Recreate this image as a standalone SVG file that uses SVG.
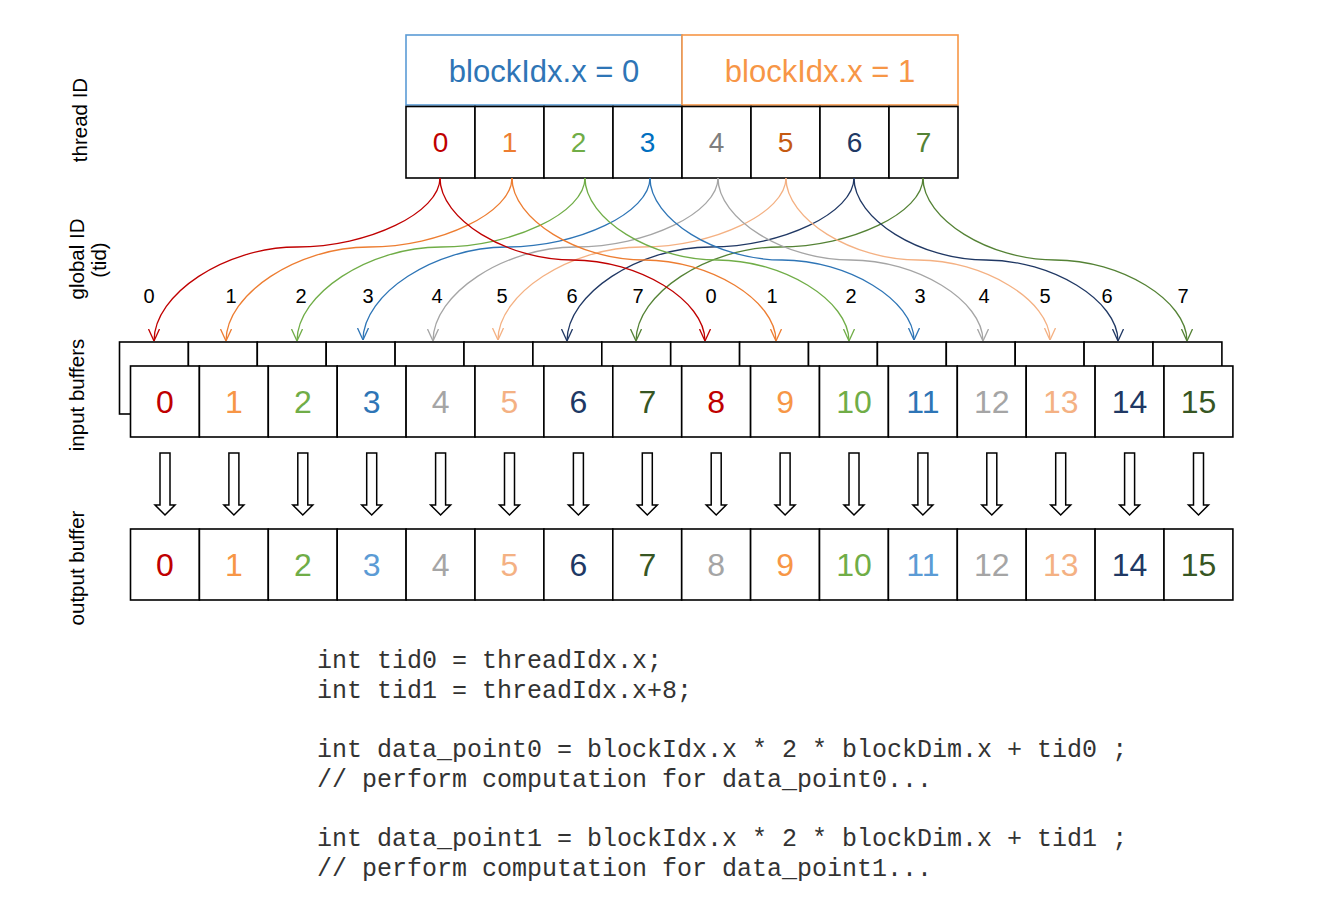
<svg xmlns="http://www.w3.org/2000/svg" width="1332" height="897" viewBox="0 0 1332 897">
<style>
.cell{fill:#fff;stroke:#000;stroke-width:1.6}
.num{font-family:"Liberation Sans",Arial,sans-serif;text-anchor:middle}
.top{font-size:28px}
.big{font-size:32px}
.lbl{font-family:"Liberation Sans",Arial,sans-serif;font-size:20px;text-anchor:middle;fill:#000}
.side{font-family:"Liberation Sans",Arial,sans-serif;font-size:20.5px;text-anchor:middle;fill:#000}
.code{font-family:"Liberation Mono","Courier New",monospace;font-size:25px;fill:#333;white-space:pre}
.cv{fill:none;stroke-width:1.3}
.harrow{fill:#fff;stroke:#000;stroke-width:1.5}
</style>
<defs>
<marker id="m0" viewBox="0 0 12 12" refX="12" refY="6" markerWidth="12" markerHeight="12" markerUnits="userSpaceOnUse" orient="auto"><path d="M0,0.5 L12,6 L0,11.5" fill="none" stroke="#c00000" stroke-width="1.3"/></marker>
<marker id="m1" viewBox="0 0 12 12" refX="12" refY="6" markerWidth="12" markerHeight="12" markerUnits="userSpaceOnUse" orient="auto"><path d="M0,0.5 L12,6 L0,11.5" fill="none" stroke="#ed7d31" stroke-width="1.3"/></marker>
<marker id="m2" viewBox="0 0 12 12" refX="12" refY="6" markerWidth="12" markerHeight="12" markerUnits="userSpaceOnUse" orient="auto"><path d="M0,0.5 L12,6 L0,11.5" fill="none" stroke="#70ad47" stroke-width="1.3"/></marker>
<marker id="m3" viewBox="0 0 12 12" refX="12" refY="6" markerWidth="12" markerHeight="12" markerUnits="userSpaceOnUse" orient="auto"><path d="M0,0.5 L12,6 L0,11.5" fill="none" stroke="#2e75b6" stroke-width="1.3"/></marker>
<marker id="m4" viewBox="0 0 12 12" refX="12" refY="6" markerWidth="12" markerHeight="12" markerUnits="userSpaceOnUse" orient="auto"><path d="M0,0.5 L12,6 L0,11.5" fill="none" stroke="#a5a5a5" stroke-width="1.3"/></marker>
<marker id="m5" viewBox="0 0 12 12" refX="12" refY="6" markerWidth="12" markerHeight="12" markerUnits="userSpaceOnUse" orient="auto"><path d="M0,0.5 L12,6 L0,11.5" fill="none" stroke="#f4b183" stroke-width="1.3"/></marker>
<marker id="m6" viewBox="0 0 12 12" refX="12" refY="6" markerWidth="12" markerHeight="12" markerUnits="userSpaceOnUse" orient="auto"><path d="M0,0.5 L12,6 L0,11.5" fill="none" stroke="#203864" stroke-width="1.3"/></marker>
<marker id="m7" viewBox="0 0 12 12" refX="12" refY="6" markerWidth="12" markerHeight="12" markerUnits="userSpaceOnUse" orient="auto"><path d="M0,0.5 L12,6 L0,11.5" fill="none" stroke="#548235" stroke-width="1.3"/></marker>
</defs>
<rect width="1332" height="897" fill="#fff"/>

<!-- side labels -->
<g id="side-labels">
<text class="side" transform="translate(80,120) rotate(-90)" dy="0.35em">thread ID</text>
<text class="side" transform="translate(77,259) rotate(-90)" dy="0.35em">global ID</text>
<text class="side" transform="translate(99,260) rotate(-90)" dy="0.35em">(tid)</text>
<text class="side" transform="translate(77,395) rotate(-90)" dy="0.35em">input buffers</text>
<text class="side" transform="translate(77,568) rotate(-90)" dy="0.35em">output buffer</text>
</g>

<!-- block headers -->
<g id="block0">
<rect x="406" y="35" width="276" height="70" fill="#fff" stroke="#5b9bd5" stroke-width="1.6"/>
<text class="num" x="544" y="82" font-size="31" fill="#2e75b6">blockIdx.x = 0</text>
</g>
<g id="block1">
<rect x="682" y="35" width="276" height="70" fill="#fff" stroke="#f79646" stroke-width="1.6"/>
<text class="num" x="820" y="82" font-size="31" fill="#f79646">blockIdx.x = 1</text>
</g>

<!-- thread cells -->
<g id="threads">
<g id="t0"><rect class="cell" x="406" y="106.5" width="69" height="71.5"/><text class="num top" x="440.5" y="152" fill="#c00000">0</text></g>
<g id="t1"><rect class="cell" x="475" y="106.5" width="69" height="71.5"/><text class="num top" x="509.5" y="152" fill="#ed7d31">1</text></g>
<g id="t2"><rect class="cell" x="544" y="106.5" width="69" height="71.5"/><text class="num top" x="578.5" y="152" fill="#70ad47">2</text></g>
<g id="t3"><rect class="cell" x="613" y="106.5" width="69" height="71.5"/><text class="num top" x="647.5" y="152" fill="#0070c0">3</text></g>
<g id="t4"><rect class="cell" x="682" y="106.5" width="69" height="71.5"/><text class="num top" x="716.5" y="152" fill="#7f7f7f">4</text></g>
<g id="t5"><rect class="cell" x="751" y="106.5" width="69" height="71.5"/><text class="num top" x="785.5" y="152" fill="#c55a11">5</text></g>
<g id="t6"><rect class="cell" x="820" y="106.5" width="69" height="71.5"/><text class="num top" x="854.5" y="152" fill="#203864">6</text></g>
<g id="t7"><rect class="cell" x="889" y="106.5" width="69" height="71.5"/><text class="num top" x="923.5" y="152" fill="#548235">7</text></g>
</g>

<!-- global id labels -->
<g id="gid-labels">
<text class="lbl" x="149" y="303">0</text>
<text class="lbl" x="231" y="303">1</text>
<text class="lbl" x="301" y="303">2</text>
<text class="lbl" x="368" y="303">3</text>
<text class="lbl" x="437" y="303">4</text>
<text class="lbl" x="502" y="303">5</text>
<text class="lbl" x="572" y="303">6</text>
<text class="lbl" x="638" y="303">7</text>
<text class="lbl" x="711" y="303">0</text>
<text class="lbl" x="772" y="303">1</text>
<text class="lbl" x="851" y="303">2</text>
<text class="lbl" x="920" y="303">3</text>
<text class="lbl" x="984" y="303">4</text>
<text class="lbl" x="1045" y="303">5</text>
<text class="lbl" x="1107" y="303">6</text>
<text class="lbl" x="1183" y="303">7</text>
</g>

<!-- input buffer back row -->
<g id="input-back">
<rect class="cell" x="119.5" y="342" width="68.9" height="72"/>
<rect class="cell" x="188.4" y="342" width="68.9" height="72"/>
<rect class="cell" x="257.3" y="342" width="68.9" height="72"/>
<rect class="cell" x="326.2" y="342" width="68.9" height="72"/>
<rect class="cell" x="395.1" y="342" width="68.9" height="72"/>
<rect class="cell" x="464" y="342" width="68.9" height="72"/>
<rect class="cell" x="532.9" y="342" width="68.9" height="72"/>
<rect class="cell" x="601.8" y="342" width="68.9" height="72"/>
<rect class="cell" x="670.7" y="342" width="68.9" height="72"/>
<rect class="cell" x="739.6" y="342" width="68.9" height="72"/>
<rect class="cell" x="808.5" y="342" width="68.9" height="72"/>
<rect class="cell" x="877.4" y="342" width="68.9" height="72"/>
<rect class="cell" x="946.3" y="342" width="68.9" height="72"/>
<rect class="cell" x="1015.2" y="342" width="68.9" height="72"/>
<rect class="cell" x="1084.1" y="342" width="68.9" height="72"/>
<rect class="cell" x="1153" y="342" width="68.9" height="72"/>
</g>

<!-- connectors -->
<g id="connectors">
<path class="cv" stroke="#c00000" marker-end="url(#m0)" d="M440,178 C440,212.5 368.5,247 297,247 C225.5,247 154,294 154,341"/>
<path class="cv" stroke="#ed7d31" marker-end="url(#m1)" d="M512,178 C512,212.5 440.5,247 369,247 C297.5,247 226,294 226,341"/>
<path class="cv" stroke="#70ad47" marker-end="url(#m2)" d="M585,178 C585,212.5 513,247 441,247 C369,247 297,294 297,341"/>
<path class="cv" stroke="#2e75b6" marker-end="url(#m3)" d="M650,178 C650,212.5 578.25,247 506.5,247 C434.75,247 363,294 363,340"/>
<path class="cv" stroke="#a5a5a5" marker-end="url(#m4)" d="M718,178 C718,212.5 646.75,247 575.5,247 C504.25,247 433,294 433,341"/>
<path class="cv" stroke="#f4b183" marker-end="url(#m5)" d="M786,178 C786,212.5 714,247 642,247 C570,247 498,294 498,340"/>
<path class="cv" stroke="#203864" marker-end="url(#m6)" d="M854,178 C854,212.5 782.25,247 710.5,247 C638.75,247 567,294 567,341"/>
<path class="cv" stroke="#548235" marker-end="url(#m7)" d="M923,178 C923,212.5 851.25,247 779.5,247 C707.75,247 636,294 636,341"/>
<path class="cv" stroke="#c00000" marker-end="url(#m0)" d="M440,178 C440,219 506.25,260 572.5,260 C638.75,260 705,300.5 705,341"/>
<path class="cv" stroke="#ed7d31" marker-end="url(#m1)" d="M512,178 C512,219 578,260 644,260 C710,260 776,300.5 776,341"/>
<path class="cv" stroke="#70ad47" marker-end="url(#m2)" d="M585,178 C585,219 651,260 717,260 C783,260 849,300.5 849,341"/>
<path class="cv" stroke="#2e75b6" marker-end="url(#m3)" d="M650,178 C650,219 716,260 782,260 C848,260 914,300.5 914,340"/>
<path class="cv" stroke="#a5a5a5" marker-end="url(#m4)" d="M718,178 C718,219 784.25,260 850.5,260 C916.75,260 983,300.5 983,341"/>
<path class="cv" stroke="#f4b183" marker-end="url(#m5)" d="M786,178 C786,219 852,260 918,260 C984,260 1050,300.5 1050,340"/>
<path class="cv" stroke="#203864" marker-end="url(#m6)" d="M854,178 C854,219 920,260 986,260 C1052,260 1118,300.5 1118,341"/>
<path class="cv" stroke="#548235" marker-end="url(#m7)" d="M923,178 C923,219 989,260 1055,260 C1121,260 1187,300.5 1187,341"/>
</g>

<!-- input buffer front row -->
<g id="input-front">
<g id="in0"><rect class="cell" x="130.5" y="366" width="68.9" height="71"/><text class="num big" x="165" y="413" fill="#c00000">0</text></g>
<g id="in1"><rect class="cell" x="199.4" y="366" width="68.9" height="71"/><text class="num big" x="233.9" y="413" fill="#f79646">1</text></g>
<g id="in2"><rect class="cell" x="268.3" y="366" width="68.9" height="71"/><text class="num big" x="302.8" y="413" fill="#70ad47">2</text></g>
<g id="in3"><rect class="cell" x="337.2" y="366" width="68.9" height="71"/><text class="num big" x="371.7" y="413" fill="#2e75b6">3</text></g>
<g id="in4"><rect class="cell" x="406.1" y="366" width="68.9" height="71"/><text class="num big" x="440.6" y="413" fill="#a5a5a5">4</text></g>
<g id="in5"><rect class="cell" x="475" y="366" width="68.9" height="71"/><text class="num big" x="509.5" y="413" fill="#f4b183">5</text></g>
<g id="in6"><rect class="cell" x="543.9" y="366" width="68.9" height="71"/><text class="num big" x="578.4" y="413" fill="#203864">6</text></g>
<g id="in7"><rect class="cell" x="612.8" y="366" width="68.9" height="71"/><text class="num big" x="647.3" y="413" fill="#375623">7</text></g>
<g id="in8"><rect class="cell" x="681.7" y="366" width="68.9" height="71"/><text class="num big" x="716.2" y="413" fill="#c00000">8</text></g>
<g id="in9"><rect class="cell" x="750.6" y="366" width="68.9" height="71"/><text class="num big" x="785.1" y="413" fill="#f79646">9</text></g>
<g id="in10"><rect class="cell" x="819.5" y="366" width="68.9" height="71"/><text class="num big" x="854" y="413" fill="#70ad47">10</text></g>
<g id="in11"><rect class="cell" x="888.4" y="366" width="68.9" height="71"/><text class="num big" x="922.9" y="413" fill="#2e75b6">11</text></g>
<g id="in12"><rect class="cell" x="957.3" y="366" width="68.9" height="71"/><text class="num big" x="991.8" y="413" fill="#a5a5a5">12</text></g>
<g id="in13"><rect class="cell" x="1026.2" y="366" width="68.9" height="71"/><text class="num big" x="1060.7" y="413" fill="#f4b183">13</text></g>
<g id="in14"><rect class="cell" x="1095.1" y="366" width="68.9" height="71"/><text class="num big" x="1129.6" y="413" fill="#203864">14</text></g>
<g id="in15"><rect class="cell" x="1164" y="366" width="68.9" height="71"/><text class="num big" x="1198.5" y="413" fill="#375623">15</text></g>
</g>

<!-- hollow down arrows -->
<g id="down-arrows">
<polygon class="harrow" points="160,453 170,453 170,505 175,505 165,515 155,505 160,505"/>
<polygon class="harrow" points="228.9,453 238.9,453 238.9,505 243.9,505 233.9,515 223.9,505 228.9,505"/>
<polygon class="harrow" points="297.8,453 307.8,453 307.8,505 312.8,505 302.8,515 292.8,505 297.8,505"/>
<polygon class="harrow" points="366.7,453 376.7,453 376.7,505 381.7,505 371.7,515 361.7,505 366.7,505"/>
<polygon class="harrow" points="435.6,453 445.6,453 445.6,505 450.6,505 440.6,515 430.6,505 435.6,505"/>
<polygon class="harrow" points="504.5,453 514.5,453 514.5,505 519.5,505 509.5,515 499.5,505 504.5,505"/>
<polygon class="harrow" points="573.4,453 583.4,453 583.4,505 588.4,505 578.4,515 568.4,505 573.4,505"/>
<polygon class="harrow" points="642.3,453 652.3,453 652.3,505 657.3,505 647.3,515 637.3,505 642.3,505"/>
<polygon class="harrow" points="711.2,453 721.2,453 721.2,505 726.2,505 716.2,515 706.2,505 711.2,505"/>
<polygon class="harrow" points="780.1,453 790.1,453 790.1,505 795.1,505 785.1,515 775.1,505 780.1,505"/>
<polygon class="harrow" points="849,453 859,453 859,505 864,505 854,515 844,505 849,505"/>
<polygon class="harrow" points="917.9,453 927.9,453 927.9,505 932.9,505 922.9,515 912.9,505 917.9,505"/>
<polygon class="harrow" points="986.8,453 996.8,453 996.8,505 1001.8,505 991.8,515 981.8,505 986.8,505"/>
<polygon class="harrow" points="1055.7,453 1065.7,453 1065.7,505 1070.7,505 1060.7,515 1050.7,505 1055.7,505"/>
<polygon class="harrow" points="1124.6,453 1134.6,453 1134.6,505 1139.6,505 1129.6,515 1119.6,505 1124.6,505"/>
<polygon class="harrow" points="1193.5,453 1203.5,453 1203.5,505 1208.5,505 1198.5,515 1188.5,505 1193.5,505"/>
</g>

<!-- output buffer -->
<g id="output">
<g id="out0"><rect class="cell" x="130.5" y="529" width="68.9" height="71"/><text class="num big" x="165" y="576" fill="#c00000">0</text></g>
<g id="out1"><rect class="cell" x="199.4" y="529" width="68.9" height="71"/><text class="num big" x="233.9" y="576" fill="#f79646">1</text></g>
<g id="out2"><rect class="cell" x="268.3" y="529" width="68.9" height="71"/><text class="num big" x="302.8" y="576" fill="#70ad47">2</text></g>
<g id="out3"><rect class="cell" x="337.2" y="529" width="68.9" height="71"/><text class="num big" x="371.7" y="576" fill="#5b9bd5">3</text></g>
<g id="out4"><rect class="cell" x="406.1" y="529" width="68.9" height="71"/><text class="num big" x="440.6" y="576" fill="#a5a5a5">4</text></g>
<g id="out5"><rect class="cell" x="475" y="529" width="68.9" height="71"/><text class="num big" x="509.5" y="576" fill="#f4b183">5</text></g>
<g id="out6"><rect class="cell" x="543.9" y="529" width="68.9" height="71"/><text class="num big" x="578.4" y="576" fill="#203864">6</text></g>
<g id="out7"><rect class="cell" x="612.8" y="529" width="68.9" height="71"/><text class="num big" x="647.3" y="576" fill="#375623">7</text></g>
<g id="out8"><rect class="cell" x="681.7" y="529" width="68.9" height="71"/><text class="num big" x="716.2" y="576" fill="#a5a5a5">8</text></g>
<g id="out9"><rect class="cell" x="750.6" y="529" width="68.9" height="71"/><text class="num big" x="785.1" y="576" fill="#f79646">9</text></g>
<g id="out10"><rect class="cell" x="819.5" y="529" width="68.9" height="71"/><text class="num big" x="854" y="576" fill="#70ad47">10</text></g>
<g id="out11"><rect class="cell" x="888.4" y="529" width="68.9" height="71"/><text class="num big" x="922.9" y="576" fill="#5b9bd5">11</text></g>
<g id="out12"><rect class="cell" x="957.3" y="529" width="68.9" height="71"/><text class="num big" x="991.8" y="576" fill="#a5a5a5">12</text></g>
<g id="out13"><rect class="cell" x="1026.2" y="529" width="68.9" height="71"/><text class="num big" x="1060.7" y="576" fill="#f4b183">13</text></g>
<g id="out14"><rect class="cell" x="1095.1" y="529" width="68.9" height="71"/><text class="num big" x="1129.6" y="576" fill="#203864">14</text></g>
<g id="out15"><rect class="cell" x="1164" y="529" width="68.9" height="71"/><text class="num big" x="1198.5" y="576" fill="#375623">15</text></g>
</g>

<!-- code -->
<g id="code">
<text class="code" x="317" y="668">int tid0 = threadIdx.x;</text>
<text class="code" x="317" y="697.5">int tid1 = threadIdx.x+8;</text>
<text class="code" x="317" y="757">int data_point0 = blockIdx.x * 2 * blockDim.x + tid0 ;</text>
<text class="code" x="317" y="786.5">// perform computation for data_point0...</text>
<text class="code" x="317" y="846">int data_point1 = blockIdx.x * 2 * blockDim.x + tid1 ;</text>
<text class="code" x="317" y="875.5">// perform computation for data_point1...</text>
</g>
</svg>
